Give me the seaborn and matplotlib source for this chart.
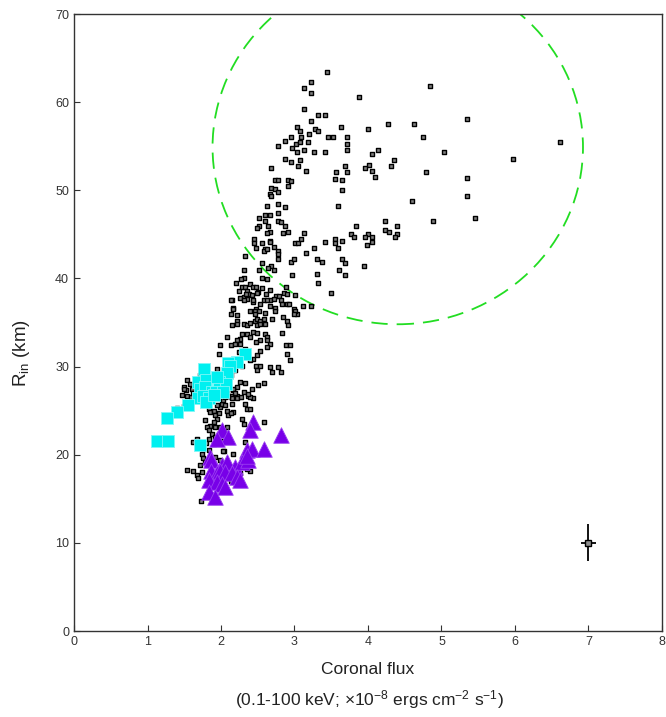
import numpy as np
import pandas as pd
import matplotlib
matplotlib.use("Agg")
import matplotlib.pyplot as plt
from matplotlib.patches import Ellipse
import seaborn as sns

# Coronal flux (1e-8 erg/cm2/s) and inner radius (km) for each spectrum
upper_pts = [
    (3.44, 63.4), (3.22, 62.3), (3.13, 61.6), (3.22, 61.0), (3.88, 60.6), (4.85, 61.8),
    (3.13, 59.2), (3.32, 58.5), (3.41, 58.5), (3.22, 57.9), (4.27, 57.5), (4.62, 57.5),
    (5.35, 58.1), (3.63, 57.2), (3.03, 57.2), (4.00, 57.0), (3.07, 56.7), (3.28, 56.9),
    (3.32, 56.7), (3.20, 56.4), (4.75, 56.0), (2.95, 56.0), (3.09, 56.1), (3.46, 56.0),
    (3.53, 56.0), (3.72, 56.0), (2.87, 55.6), (3.02, 55.3), (3.07, 55.5), (3.18, 55.5),
    (3.72, 55.3), (6.61, 55.5), (2.77, 55.0), (2.97, 54.8), (3.03, 54.4), (3.13, 54.6),
    (3.26, 54.4), (3.42, 54.4), (3.72, 54.6), (4.13, 54.6), (5.04, 54.3), (4.05, 54.1),
    (5.97, 53.6), (2.87, 53.6), (3.07, 53.4), (2.95, 53.2), (4.36, 53.4), (4.02, 52.9),
    (2.68, 52.5), (3.05, 52.7), (3.69, 52.7), (3.96, 52.5), (4.31, 52.7), (4.79, 52.1),
    (3.16, 52.2), (3.57, 52.1), (3.72, 52.1), (4.05, 52.2), (4.09, 51.5), (5.35, 51.4),
    (2.74, 51.2), (2.78, 51.2), (2.91, 51.2), (2.95, 51.0), (3.55, 51.3), (3.65, 51.2),
    (2.68, 50.3), (2.74, 50.2), (2.91, 50.5), (2.77, 49.8), (3.65, 50.0), (5.35, 49.3),
    (2.66, 49.6), (2.68, 49.3), (2.78, 48.4), (2.87, 48.1), (2.62, 48.2), (3.59, 48.2),
    (4.60, 48.8), (2.60, 47.2), (2.66, 47.2), (2.52, 46.9), (2.78, 47.4), (5.45, 46.9),
    (2.60, 46.5), (2.78, 46.5), (2.81, 46.4), (2.87, 46.0), (3.84, 46.0), (4.23, 46.5),
    (4.89, 46.5), (2.52, 46.0), (2.64, 46.0), (2.49, 45.7), (4.40, 45.9), (2.66, 45.3),
    (2.62, 45.1), (2.85, 45.1), (2.91, 45.3), (3.13, 45.1), (3.77, 45.0), (3.81, 44.7),
    (4.00, 45.0), (3.96, 44.7), (4.06, 44.7), (4.23, 45.5), (4.29, 45.3), (4.40, 45.0),
    (4.37, 44.7), (2.45, 44.5), (2.45, 44.0), (2.56, 44.0), (2.66, 44.3), (2.66, 44.1),
    (2.72, 43.6), (3.01, 44.0), (3.05, 44.0), (3.09, 44.5), (3.41, 44.1), (3.55, 44.5),
    (3.55, 44.0), (3.65, 44.3), (3.26, 43.4), (3.59, 43.4), (3.98, 43.8), (4.06, 44.1),
    (2.48, 43.4), (2.60, 43.3), (2.58, 43.1), (2.62, 43.3), (2.77, 43.1), (2.78, 42.8),
    (2.78, 42.2), (3.16, 42.9), (2.33, 42.6), (2.95, 41.9), (2.99, 42.2), (3.30, 42.2),
    (3.37, 41.9), (3.65, 42.2), (3.69, 41.8), (3.94, 41.4), (2.56, 41.8), (2.68, 41.4),
    (2.64, 41.2), (2.72, 41.0), (2.52, 40.9), (2.31, 41.0), (2.56, 40.0), (2.62, 39.9),
    (2.31, 40.0), (2.27, 39.9), (2.97, 40.4), (3.30, 40.5), (3.61, 40.9), (3.69, 40.4),
    (3.32, 39.5), (2.89, 39.0), (3.49, 38.3), (3.01, 38.1), (3.12, 36.9), (3.22, 36.9),
]

middle_pts = [
    (2.25, 38.6), (2.28, 39.0), (2.33, 39.0), (2.35, 38.6), (2.40, 39.4), (2.44, 39.0),
    (2.48, 39.0), (2.50, 38.5), (2.31, 37.9), (2.35, 37.7), (2.44, 37.3), (2.53, 37.1),
    (2.58, 37.6), (2.66, 37.5), (2.67, 38.7), (2.75, 38.0), (2.79, 38.0), (2.81, 37.5),
    (2.90, 37.1), (2.15, 37.6), (2.17, 36.6), (2.47, 36.5), (2.67, 36.9), (2.74, 36.7),
    (2.20, 39.5), (2.38, 38.2), (2.56, 38.9), (2.86, 38.4), (2.61, 38.2),
    (2.14, 37.6), (2.26, 37.8), (2.31, 37.6), (2.34, 38.2), (2.42, 38.1), (2.49, 38.4),
    (2.43, 37.5), (2.62, 37.5), (2.72, 37.7), (2.90, 38.2), (2.92, 37.1), (2.74, 36.3),
    (2.83, 37.1), (2.99, 36.5), (3.03, 36.0), (2.16, 36.5), (2.13, 36.0), (2.22, 35.9),
    (2.22, 35.2), (2.22, 34.8), (2.15, 34.7), (2.39, 36.3), (2.46, 36.3), (2.52, 36.3),
    (2.60, 36.1), (2.46, 36.0), (2.46, 35.2), (2.49, 35.4), (2.53, 35.2), (2.58, 35.4),
    (2.60, 34.8), (2.31, 34.8), (2.35, 34.7), (2.40, 35.0), (2.49, 34.7), (2.53, 34.8),
    (2.69, 35.4), (2.85, 35.6), (2.90, 35.2), (2.91, 34.7), (3.01, 36.3), (3.00, 36.0),
    (2.28, 33.7), (2.26, 33.1), (2.22, 33.0), (2.36, 33.7), (2.40, 33.3), (2.44, 33.9),
    (2.49, 33.8), (2.60, 33.7), (2.62, 33.3), (2.67, 32.6), (2.62, 33.0), (2.53, 33.0),
    (2.47, 32.8), (2.83, 33.8), (2.89, 32.5), (2.94, 32.4), (2.08, 33.3), (1.98, 32.5),
    (2.13, 32.4), (2.19, 32.6), (2.26, 32.6), (2.33, 32.0), (2.28, 31.6), (2.37, 31.4),
    (2.49, 31.3), (2.53, 31.8), (2.44, 30.9), (2.40, 30.7), (2.47, 30.1), (2.49, 29.6),
    (2.53, 30.1), (2.67, 29.9), (2.78, 29.9), (2.90, 31.4), (2.94, 30.7), (2.81, 29.4),
    (2.69, 29.4), (2.58, 28.1), (2.51, 27.9), (2.42, 27.4), (2.33, 28.1), (2.26, 28.2),
    (2.22, 27.7), (2.17, 27.3), (2.37, 26.7), (2.44, 26.4), (2.08, 27.3), (2.10, 26.7),
    (1.54, 28.5), (1.58, 28.0), (1.49, 27.7), (1.60, 27.5), (1.53, 27.3), (2.62, 32.2),
    (2.24, 31.6), (2.22, 30.7), (2.28, 30.1), (2.16, 30.1), (2.19, 29.6), (2.06, 29.6),
    (1.99, 28.8), (2.13, 29.0), (2.06, 28.4), (2.16, 27.4), (2.22, 26.7), (1.94, 29.7),
    (1.97, 31.4),
]

core_pts = [
    (1.47, 26.8), (1.54, 26.7), (1.59, 26.5), (1.62, 27.0), (2.19, 27.0), (2.13, 26.7),
    (2.15, 26.4), (2.22, 26.4), (2.27, 26.6), (2.31, 27.1), (2.40, 26.6), (2.37, 26.9),
    (2.32, 25.8), (2.35, 25.2), (2.40, 25.2), (2.28, 24.0), (2.31, 23.5), (2.58, 23.7),
    (2.33, 21.4), (2.17, 20.1), (2.04, 20.4), (2.40, 18.2), (2.35, 18.4), (2.26, 17.9),
    (2.13, 17.0), (2.12, 17.9), (1.76, 26.2), (1.81, 25.8), (1.83, 25.2), (1.85, 24.8),
    (1.90, 25.0), (1.92, 24.5), (1.94, 24.1), (1.97, 24.7), (1.99, 25.4), (2.01, 25.8),
    (2.03, 26.2), (2.06, 25.6), (2.08, 25.0), (2.10, 24.5), (1.94, 25.6), (1.90, 23.7),
    (1.85, 23.3), (1.81, 23.1), (1.78, 23.9), (1.83, 22.8), (1.88, 22.4), (1.92, 22.0),
    (1.84, 21.8), (1.80, 21.3), (1.76, 20.7), (1.74, 20.1), (1.76, 19.6), (1.78, 19.2),
    (1.72, 18.8), (1.74, 18.0), (1.67, 17.7), (1.69, 17.4), (1.62, 18.2), (1.54, 18.3),
    (1.73, 14.8), (1.97, 26.4), (2.01, 26.7), (2.06, 26.5), (2.15, 25.7), (2.17, 24.8),
    (1.92, 23.1), (1.99, 23.1), (2.08, 23.1), (2.04, 22.6), (1.97, 21.6), (2.03, 21.6),
    (1.90, 21.2), (1.83, 20.5), (2.03, 20.4), (1.92, 19.7), (1.99, 19.4), (2.09, 26.7),
    (2.13, 24.7), (1.49, 27.4), (1.71, 29.1), (1.40, 25.3), (1.38, 25.1), (1.49, 25.5),
    (1.62, 21.4), (1.67, 21.8), (1.72, 20.9),
]

# Reference observations (filled squares) and low-radius state (triangles)
ref_flux = [2.32, 2.22, 2.09, 2.12, 2.08, 1.77, 1.69, 1.80, 1.71, 1.78, 1.88, 1.97, 2.07,
            1.93, 2.03, 1.69, 1.76, 1.84, 1.80, 1.55, 1.40, 1.27, 1.13, 1.28, 1.71, 1.90, 1.95]
ref_rin = [31.4, 30.5, 30.4, 30.1, 29.3, 29.7, 28.3, 28.5, 27.4, 27.7, 27.1, 28.3, 28.0,
           27.1, 27.1, 26.4, 26.7, 26.4, 26.0, 25.6, 24.8, 24.2, 21.5, 21.5, 21.1, 26.8, 28.8]

low_flux = [2.44, 2.40, 2.81, 2.01, 2.10, 1.94, 2.35, 2.42, 2.58, 1.85, 1.87, 2.01, 2.08,
            2.19, 2.28, 2.37, 1.87, 1.94, 1.99, 2.06, 2.15, 2.22, 2.26, 1.83, 1.94, 2.01,
            2.06, 1.83, 1.92, 2.35]
low_rin = [23.7, 22.8, 22.2, 22.8, 22.0, 21.8, 20.5, 20.7, 20.7, 19.7, 19.4, 18.8, 19.2,
           18.6, 19.2, 19.4, 18.2, 17.9, 18.2, 18.0, 17.9, 17.5, 17.1, 17.1, 16.9, 16.7,
           16.3, 15.8, 15.2, 19.9]

# Typical uncertainty
err_flux, err_rin = 7.0, 10.0
err_dx, err_dy = 0.1, 2.1

# Region enclosing the high-radius branch
ring_center = (4.405, 54.9)
ring_width, ring_height = 5.04, 40.2

sns.set_theme(style="white")
plt.rcParams["font.family"] = ["Liberation Sans", "DejaVu Sans"]
plt.rcParams["mathtext.fontset"] = "custom"
plt.rcParams["mathtext.rm"] = "Liberation Sans"
plt.rcParams["mathtext.it"] = "Liberation Sans:italic"

all_pts = upper_pts + middle_pts + core_pts
spectra = pd.DataFrame(all_pts, columns=["flux", "rin"])
refs = pd.DataFrame({"flux": ref_flux, "rin": ref_rin})
lows = pd.DataFrame({"flux": low_flux, "rin": low_rin})

fig = plt.figure(figsize=(6.66, 7.17), dpi=100)
ax = fig.add_axes([74 / 666, 1 - 631 / 717, (662 - 74) / 666, (631 - 14) / 717])

sns.scatterplot(data=spectra, x="flux", y="rin", ax=ax, marker="s", s=12,
                facecolor="#808080", edgecolor="black", linewidth=1.0, zorder=3)
sns.scatterplot(data=refs, x="flux", y="rin", ax=ax, marker="s", s=64,
                color="#00f0f0", edgecolor="#7ff7f7", linewidth=0.6, zorder=4)
sns.scatterplot(data=lows, x="flux", y="rin", ax=ax, marker="^", s=125,
                color="#7800e8", edgecolor="#9a40f0", linewidth=0.6, zorder=5)

ax.errorbar(err_flux, err_rin, xerr=err_dx, yerr=err_dy, fmt="s", ms=4.5,
            mfc="#909090", mec="black", mew=1.0, ecolor="black", elinewidth=1.3,
            capsize=0, zorder=6)

ring = Ellipse(ring_center, ring_width, ring_height, fill=False, edgecolor="#22dd22",
               linewidth=1.3, linestyle=(0, (9, 5)), zorder=2)
ax.add_patch(ring)

ax.set_xlim(0, 8)
ax.set_ylim(0, 70)
ax.set_xticks(range(0, 9))
ax.set_yticks(range(0, 71, 10))
ax.tick_params(direction="in", length=4, width=0.8, colors="#333333",
               labelsize=9, top=False, right=False, bottom=True, left=True)
for s in ax.spines.values():
    s.set_color("#333333")
    s.set_linewidth(1.0)

ax.set_xlabel("Coronal flux", fontsize=12.5, color="#222222", labelpad=10)
ax.set_ylabel(r"R$_{\rm in}$ (km)", fontsize=13.5, color="#222222")
ax.yaxis.set_label_coords(-0.072, 0.45)
fig.text(369 / 666, 1 - 700 / 717,
         r"(0.1-100 keV; $\times$10$^{-8}$ ergs cm$^{-2}$ s$^{-1}$)",
         ha="center", va="center", fontsize=12.5, color="#222222")

fig.savefig("out.png", dpi=100)
